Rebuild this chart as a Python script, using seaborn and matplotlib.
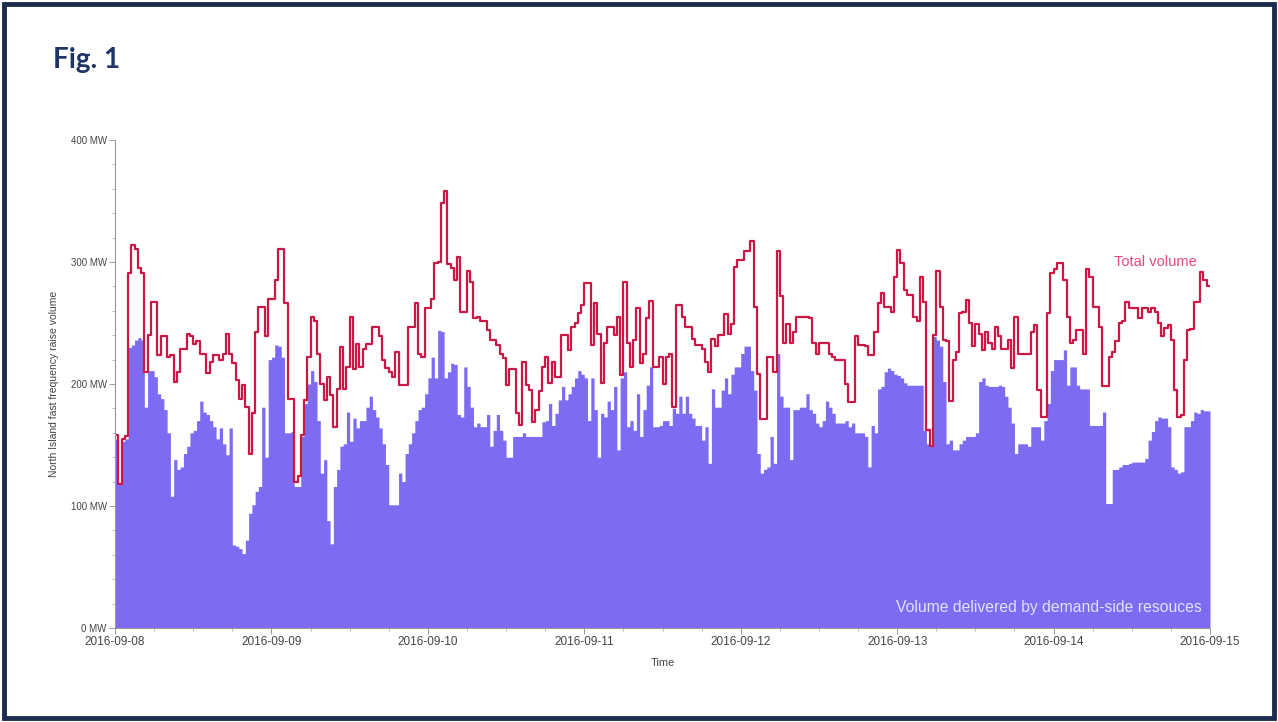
import numpy as np
import pandas as pd
import matplotlib
matplotlib.use("Agg")
import matplotlib.pyplot as plt
import matplotlib.dates as mdates
from matplotlib.patches import Rectangle
from matplotlib.ticker import FixedLocator, FuncFormatter
import seaborn as sns

# Half-hourly North Island fast-instantaneous-reserve volumes (MW), one list per day
total_0908 = [158, 118, 155, 157, 291, 314, 311, 295, 291, 210, 240, 267, 267, 224, 239, 239,
              222, 224, 202, 210, 229, 229, 241, 239, 233, 235, 225, 225, 209, 218, 224, 224,
              220, 225, 241, 225, 217, 203, 188, 199, 181, 143, 176, 243, 263, 263, 239, 270]
total_0909 = [270, 285, 311, 311, 266, 188, 188, 120, 125, 158, 187, 222, 255, 252, 225, 200,
              187, 206, 191, 165, 196, 230, 196, 214, 255, 212, 233, 214, 229, 233, 233, 247,
              247, 239, 220, 213, 210, 206, 226, 199, 199, 199, 247, 247, 266, 225, 222, 262]
total_0910 = [262, 270, 299, 300, 348, 358, 298, 295, 285, 304, 259, 259, 293, 284, 254, 255,
              252, 252, 244, 236, 236, 232, 225, 221, 199, 212, 212, 176, 166, 218, 199, 195,
              169, 179, 194, 214, 222, 201, 218, 206, 206, 240, 240, 228, 247, 250, 258, 265]
total_0911 = [283, 283, 232, 266, 241, 201, 234, 247, 247, 240, 255, 207, 284, 234, 214, 236,
              262, 217, 225, 254, 268, 214, 214, 222, 200, 222, 225, 181, 265, 265, 255, 247,
              247, 237, 232, 232, 229, 218, 210, 237, 231, 240, 240, 257, 241, 249, 296, 302]
total_0912 = [302, 309, 309, 317, 263, 208, 171, 171, 222, 222, 210, 309, 272, 234, 249, 234,
              243, 255, 255, 255, 255, 254, 234, 225, 234, 234, 234, 225, 222, 220, 220, 220,
              200, 185, 185, 239, 232, 232, 231, 224, 224, 243, 266, 275, 263, 263, 259, 288]
total_0913 = [310, 299, 277, 273, 273, 255, 252, 288, 267, 162, 149, 240, 293, 263, 236, 235,
              186, 220, 226, 258, 259, 269, 250, 231, 249, 241, 228, 243, 234, 229, 247, 239,
              229, 229, 236, 213, 255, 225, 225, 225, 225, 243, 248, 195, 173, 173, 258, 291]
total_0914 = [294, 299, 299, 285, 255, 234, 236, 244, 244, 225, 294, 288, 263, 263, 247, 198,
              198, 222, 226, 235, 250, 252, 267, 262, 262, 262, 254, 262, 262, 259, 262, 259,
              250, 239, 246, 248, 236, 195, 173, 175, 220, 244, 245, 267, 267, 292, 285, 280]

demand_0908 = [155, 118, 153, 155, 230, 232, 236, 238, 236, 181, 211, 211, 206, 192, 188, 179,
               160, 108, 138, 130, 132, 143, 149, 160, 162, 170, 186, 177, 175, 170, 165, 155,
               164, 151, 142, 164, 68, 67, 65, 61, 72, 94, 101, 112, 116, 181, 140, 220]
demand_0909 = [222, 232, 231, 222, 160, 160, 161, 116, 116, 157, 184, 200, 211, 202, 170, 127,
               138, 88, 69, 116, 130, 149, 151, 177, 153, 172, 164, 170, 170, 181, 190, 179,
               173, 164, 151, 134, 101, 101, 101, 127, 120, 143, 151, 160, 170, 179, 181, 192]
demand_0910 = [205, 222, 205, 244, 243, 205, 210, 217, 216, 175, 173, 214, 198, 181, 165, 168,
               165, 165, 175, 149, 162, 175, 162, 154, 140, 140, 157, 157, 157, 160, 157, 157,
               157, 157, 157, 169, 170, 184, 166, 176, 187, 198, 187, 192, 198, 205, 211, 208]
demand_0911 = [205, 170, 205, 179, 140, 176, 173, 186, 179, 198, 146, 205, 210, 165, 170, 162,
               192, 157, 179, 199, 214, 165, 165, 166, 170, 170, 166, 180, 176, 190, 176, 190,
               176, 172, 166, 166, 154, 165, 135, 196, 181, 181, 195, 205, 192, 208, 214, 214]
demand_0912 = [225, 231, 231, 211, 195, 143, 127, 130, 132, 157, 135, 225, 190, 181, 181, 138,
               179, 179, 181, 181, 192, 179, 176, 168, 165, 170, 186, 181, 176, 168, 168, 168,
               170, 165, 168, 160, 160, 160, 157, 132, 166, 160, 196, 198, 210, 213, 211, 208]
demand_0913 = [207, 205, 201, 199, 199, 199, 199, 199, 162, 151, 149, 239, 236, 231, 202, 151,
               154, 146, 146, 151, 154, 157, 157, 157, 160, 202, 205, 199, 198, 198, 198, 199,
               198, 190, 181, 168, 143, 151, 151, 151, 149, 165, 165, 165, 154, 170, 184, 211]
demand_0914 = [220, 220, 220, 228, 199, 214, 214, 199, 196, 196, 196, 166, 166, 166, 166, 177,
               102, 102, 130, 130, 132, 134, 134, 135, 136, 136, 136, 136, 139, 154, 161, 170,
               173, 172, 172, 165, 132, 130, 127, 128, 165, 165, 170, 177, 176, 179, 178, 178]

y_ticks = [0, 100, 200, 300, 400]
day_ticks = ["2016-09-08", "2016-09-09", "2016-09-10", "2016-09-11",
             "2016-09-12", "2016-09-13", "2016-09-14", "2016-09-15"]

total = np.concatenate([total_0908, total_0909, total_0910, total_0911,
                        total_0912, total_0913, total_0914]).astype(float)
demand = np.concatenate([demand_0908, demand_0909, demand_0910, demand_0911,
                         demand_0912, demand_0913, demand_0914]).astype(float)

times = pd.date_range("2016-09-08 00:00", periods=len(total) + 1, freq="30min")
df = pd.DataFrame({
    "Time": times,
    "total": np.append(total, total[-1]),
    "demand": np.append(demand, demand[-1]),
})

sns.set_style("white")
plt.rcParams["font.family"] = ["Liberation Sans", "DejaVu Sans"]

fig = plt.figure(figsize=(12.78, 7.22), dpi=100)
ax = fig.add_axes([115 / 1278, 1 - 628 / 722, (1210 - 115) / 1278, (628 - 140) / 722])

# demand-side volume as a filled step area, total volume as a step line on top
ax.fill_between(df["Time"], 0, df["demand"], step="post", color="#7d6cf2", lw=0)
sns.lineplot(data=df, x="Time", y="total", ax=ax, drawstyle="steps-post",
             color="#cc1744", lw=1.6, estimator=None)

ax.set_xlim(pd.Timestamp(day_ticks[0]), pd.Timestamp(day_ticks[-1]))
ax.set_ylim(0, 400)

ax.yaxis.set_major_locator(FixedLocator(y_ticks))
ax.yaxis.set_minor_locator(FixedLocator(np.arange(0, 401, 20)))
ax.yaxis.set_major_formatter(FuncFormatter(lambda v, p: f"{int(v)} MW"))
ax.xaxis.set_major_locator(FixedLocator([mdates.date2num(pd.Timestamp(d)) for d in day_ticks]))
ax.xaxis.set_minor_locator(mdates.HourLocator(byhour=[6, 12, 18]))
ax.xaxis.set_major_formatter(mdates.DateFormatter("%Y-%m-%d"))

for side in ("top", "right"):
    ax.spines[side].set_visible(False)
for side in ("left", "bottom"):
    ax.spines[side].set_color("#9a9a9a")
    ax.spines[side].set_linewidth(0.8)

ax.tick_params(axis="both", which="major", direction="out", length=4, width=0.7,
               color="#9a9a9a", labelcolor="#444444", pad=2)
ax.tick_params(axis="x", which="major", labelsize=8.5)
ax.tick_params(axis="y", which="major", labelsize=7)
ax.tick_params(axis="both", which="minor", direction="out", length=2.5, width=0.6,
               color="#b0b0b0")
ax.tick_params(left=True, bottom=True, which="both")

ax.set_xlabel("Time", fontsize=8, color="#444444", labelpad=7)
ax.set_ylabel("North Island fast frequency raise volume", fontsize=7.5,
              color="#444444", labelpad=8)

ax.text(pd.Timestamp("2016-09-14 09:15"), 300, "Total volume", color="#e8497a",
        fontsize=10.5, va="center", ha="left")
ax.text(pd.Timestamp("2016-09-14 22:45"), 17, "Volume delivered by demand-side resouces",
        color="#e4e0ff", fontsize=11.3, va="center", ha="right")

fig.text(53 / 1278, 1 - 68 / 722, "Fig. 1", fontsize=20, fontweight="bold",
         color="#1f3466", family=["Lato", "DejaVu Sans"], ha="left", va="baseline")

fig.patches.append(Rectangle((4 / 1278, 4 / 722), 1 - 8 / 1278, 1 - 8 / 722,
                             transform=fig.transFigure, fill=False,
                             edgecolor="#1d2d4e", lw=3.5))

fig.savefig("out.png", dpi=100, facecolor="white")
